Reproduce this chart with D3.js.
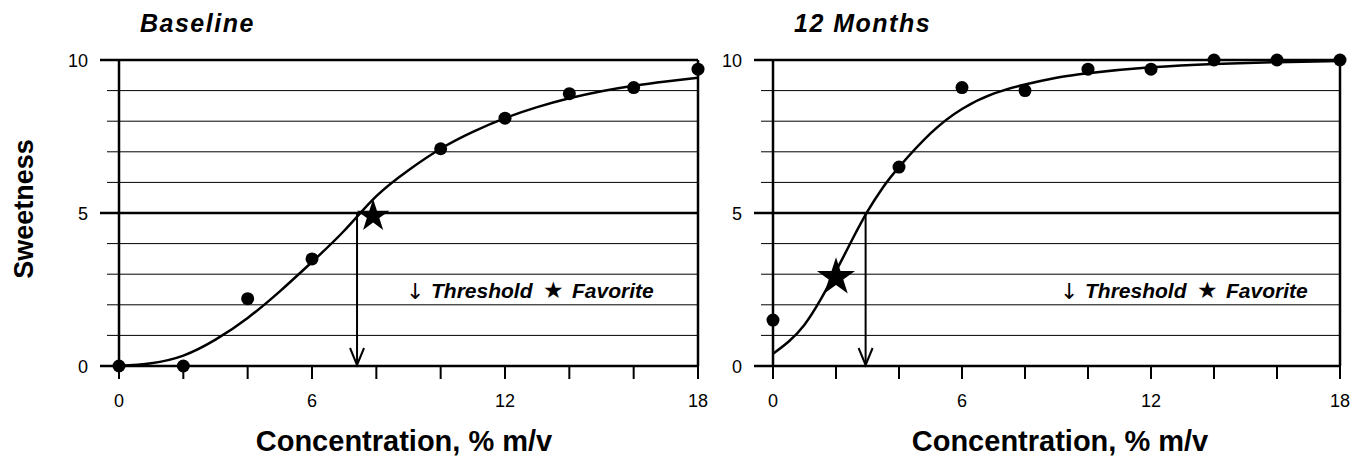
<!DOCTYPE html>
<html lang="en">
<head>
  <meta charset="utf-8">
  <title>Sweetness vs Concentration</title>
  <script src="https://cdn.jsdelivr.net/npm/d3@7"></script>
  <style>
    body { margin: 0; background: #fff; font-family: "Liberation Sans", Arial, sans-serif; }
  </style>
</head>
<body>
<div id="chart"></div>
<script>

const w = 1369;
const h = 463;

// y grid every unit, labels on 0/5/10
const yTicks = [0, 5, 10];
const xTickLabels = [0, 6, 12, 18];
const xTickMarks = [0, 2, 4, 6, 8, 10, 12, 14, 16, 18];

// Baseline panel
const baseDotX = [0, 2, 4, 6, 10, 12, 14, 16, 18];
const baseDotY = [0, 0, 2.2, 3.5, 7.1, 8.1, 8.9, 9.1, 9.7];
const baseCurveX = [0, 1, 2, 3, 4, 5, 6, 7, 8, 9, 10, 11, 12, 13, 14, 15, 16, 17, 18];
const baseCurveY = [0, 0.09, 0.34, 0.86, 1.57, 2.44, 3.4, 4.42, 5.55, 6.4, 7.1, 7.65, 8.1, 8.46, 8.75, 8.98, 9.16, 9.3, 9.42];
const baseFavorite = [7.9, 4.9];
const baseThreshold = 7.4;

// 12 months panel
const monthDotX = [0, 4, 6, 8, 10, 12, 14, 16, 18];
const monthDotY = [1.5, 6.5, 9.1, 9.0, 9.7, 9.7, 10, 10, 10];
const monthCurveX = [0, 0.5, 1, 1.5, 2, 2.5, 3, 3.5, 4, 5, 6, 7, 8, 9, 10, 12, 14, 16, 18];
const monthCurveY = [0.4, 0.8, 1.35, 2.15, 3.1, 4.1, 5.05, 5.85, 6.5, 7.6, 8.4, 8.9, 9.2, 9.42, 9.57, 9.76, 9.87, 9.93, 9.97];
const monthFavorite = [2, 2.9];
const monthThreshold = 2.94;

const svg = d3.select("#chart")
  .append("svg")
  .attr("width", w)
  .attr("height", h);

const y = d3.scaleLinear().domain([0, 10]).range([366, 60]);

function drawPanel(opt) {
  const x = d3.scaleLinear().domain([0, 18]).range([opt.left, opt.right]);
  const g = svg.append("g");

  // horizontal grid lines (thin ones)
  const minor = d3.range(1, 10).filter(d => d !== 5);
  g.selectAll("line.minor")
    .data(minor)
    .enter()
    .append("line")
    .attr("x1", opt.left - 12)
    .attr("x2", opt.right)
    .attr("y1", d => y(d))
    .attr("y2", d => y(d))
    .attr("stroke", "#000")
    .attr("stroke-width", 1);

  // heavy lines at 0, 5, 10
  g.selectAll("line.major")
    .data(yTicks)
    .enter()
    .append("line")
    .attr("x1", opt.left - 19)
    .attr("x2", opt.right)
    .attr("y1", d => y(d))
    .attr("y2", d => y(d))
    .attr("stroke", "#000")
    .attr("stroke-width", 2.5);

  // left and right frame
  g.selectAll("line.frame")
    .data([0, 18])
    .enter()
    .append("line")
    .attr("x1", d => x(d))
    .attr("x2", d => x(d))
    .attr("y1", y(10))
    .attr("y2", y(0))
    .attr("stroke", "#000")
    .attr("stroke-width", 2.5);

  // x tick marks
  g.selectAll("line.xtick")
    .data(xTickMarks)
    .enter()
    .append("line")
    .attr("x1", d => x(d))
    .attr("x2", d => x(d))
    .attr("y1", y(0))
    .attr("y2", y(0) + 13)
    .attr("stroke", "#000")
    .attr("stroke-width", 2);

  g.selectAll("text.xlab")
    .data(xTickLabels)
    .enter()
    .append("text")
    .attr("x", d => x(d))
    .attr("y", 407)
    .attr("text-anchor", "middle")
    .attr("font-size", 18)
    .text(d => d);

  g.selectAll("text.ylab")
    .data(yTicks)
    .enter()
    .append("text")
    .attr("x", opt.left - 31)
    .attr("y", d => y(d) + 7)
    .attr("text-anchor", "end")
    .attr("font-size", 18)
    .text(d => d);

  // fitted curve
  const curve = d3.line()
    .x(d => x(d[0]))
    .y(d => y(d[1]))
    .curve(d3.curveNatural);

  g.append("path")
    .datum(d3.zip(opt.curveX, opt.curveY))
    .attr("d", curve)
    .attr("fill", "none")
    .attr("stroke", "#000")
    .attr("stroke-width", 2.5);

  // threshold arrow
  const tx = x(opt.threshold);
  g.append("line")
    .attr("x1", tx).attr("x2", tx)
    .attr("y1", y(5)).attr("y2", y(0) - 1)
    .attr("stroke", "#000")
    .attr("stroke-width", 2);
  g.append("path")
    .attr("d", `M${tx - 7},${y(0) - 18} L${tx},${y(0) - 1} L${tx + 7},${y(0) - 18}`)
    .attr("fill", "none")
    .attr("stroke", "#000")
    .attr("stroke-width", 2);

  // data points
  g.selectAll("circle")
    .data(d3.zip(opt.dotX, opt.dotY))
    .enter()
    .append("circle")
    .attr("cx", d => x(d[0]))
    .attr("cy", d => y(d[1]))
    .attr("r", 6.5)
    .attr("fill", "#000");

  // favorite star
  g.append("path")
    .attr("d", d3.symbol(d3.symbolStar).size(opt.starSize)())
    .attr("transform", `translate(${x(opt.favorite[0])},${y(opt.favorite[1])})`)
    .attr("fill", "#000");

  // legend
  const lx = opt.left + 287;
  const ly = 298;
  g.append("text").attr("x", lx).attr("y", ly + 1)
    .attr("font-family", "DejaVu Sans").attr("font-size", 22).text("↓");
  g.append("text").attr("x", lx + 25).attr("y", ly)
    .attr("font-size", 21).attr("font-style", "italic").attr("font-weight", "bold")
    .text("Threshold");
  g.append("text").attr("x", lx + 137).attr("y", ly)
    .attr("font-family", "DejaVu Sans").attr("font-size", 23).text("★");
  g.append("text").attr("x", lx + 166).attr("y", ly)
    .attr("font-size", 21).attr("font-style", "italic").attr("font-weight", "bold")
    .text("Favorite");

  // panel title
  g.append("text")
    .attr("x", opt.left + 21)
    .attr("y", 32)
    .attr("font-size", 25)
    .attr("font-style", "italic")
    .attr("font-weight", "bold")
    .attr("letter-spacing", 1.5)
    .text(opt.title);

  // x axis title
  g.append("text")
    .attr("x", opt.labelX)
    .attr("y", 451)
    .attr("text-anchor", "middle")
    .attr("font-size", 29)
    .attr("font-weight", "bold")
    .text("Concentration, % m/v");
}

drawPanel({
  left: 119, right: 698, title: "Baseline", labelX: 404,
  dotX: baseDotX, dotY: baseDotY, curveX: baseCurveX, curveY: baseCurveY,
  favorite: baseFavorite, threshold: baseThreshold, starSize: 330
});

drawPanel({
  left: 773, right: 1340, title: "12 Months", labelX: 1060,
  dotX: monthDotX, dotY: monthDotY, curveX: monthCurveX, curveY: monthCurveY,
  favorite: monthFavorite, threshold: monthThreshold, starSize: 450
});

// y axis title
svg.append("text")
  .attr("transform", "translate(33," + 209 + ") rotate(-90)")
  .attr("text-anchor", "middle")
  .attr("font-size", 27)
  .attr("font-weight", "bold")
  .text("Sweetness");

</script>
</body>
</html>
